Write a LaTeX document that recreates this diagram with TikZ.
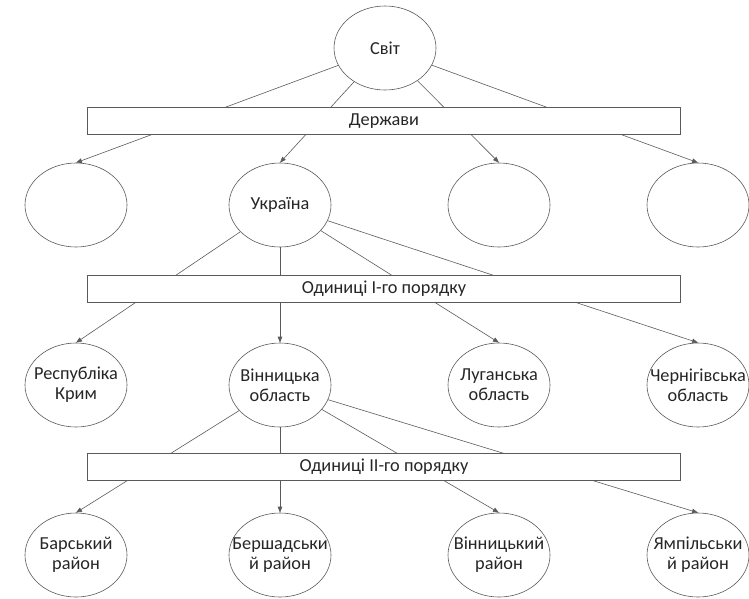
\documentclass[tikz,border=0pt]{standalone}
\usepackage{fontspec}
\setmainfont{Carlito}
\usetikzlibrary{arrows.meta,shapes.geometric}
\definecolor{edgegray}{HTML}{5A5A5A}
\definecolor{textgray}{HTML}{262626}
\begin{document}
\begin{tikzpicture}[x=1pt,y=-1pt,
  unit/.style={ellipse, draw=edgegray, line width=0.6pt, fill=white,
    minimum width=102pt, minimum height=84pt, inner xsep=-30pt, inner ysep=0pt,
    align=center, text=textgray, font=\fontsize{18.3}{20}\selectfont},
  band/.style={rectangle, draw=edgegray, line width=0.6pt, fill=white,
    minimum width=593pt, minimum height=27pt, inner sep=0pt,
    text=textgray, font=\fontsize{18.3}{20}\selectfont},
  link/.style={draw=edgegray, line width=0.6pt},
  arrowlink/.style={link, -{Triangle[length=6pt,width=4.5pt]}}
]
\useasboundingbox (0,0) rectangle (749,598);
% level 0
\node[unit] (svit) at (385,48) {Світ};
% level 1: states
\node[unit] (s1) at (76,205) {};
\node[unit] (ua) at (280,205) {Україна};
\node[unit] (s3) at (499,205) {};
\node[unit] (s4) at (698,205) {};
% level 2: first-order units
\node[unit] (krym) at (76,385) {Республіка\\Крим};
\node[unit] (vin) at (280,385) {Вінницька\\область};
\node[unit] (lug) at (499,385) {Луганська\\область};
\node[unit] (cher) at (698,385) {Чернігівська\\область};
% level 3: second-order units
\node[unit] (bar) at (76,555) {Барський\\район};
\node[unit] (ber) at (280,555) {Бершадськи\\й район};
\node[unit] (vinr) at (499,555) {Вінницький\\район};
\node[unit] (yam) at (698,555) {Ямпільськи\\й район};
% connectors, drawn under the bands
\foreach \c in {s1,ua,s3,s4} \draw[arrowlink] (svit) -- (\c.north);
\foreach \c in {krym,vin,lug,cher} \draw[arrowlink] (ua) -- (\c.north);
\foreach \c in {bar,ber,vinr,yam} \draw[arrowlink] (vin) -- (\c.north);
% bands crossing the connectors
\node[band] (states) at (384,120.8) {Держави};
\node[band] (first) at (384,288.7) {Одиниці І-го порядку};
\node[band] (second) at (384,467) {Одиниці ІІ-го порядку};
\end{tikzpicture}
\end{document}
